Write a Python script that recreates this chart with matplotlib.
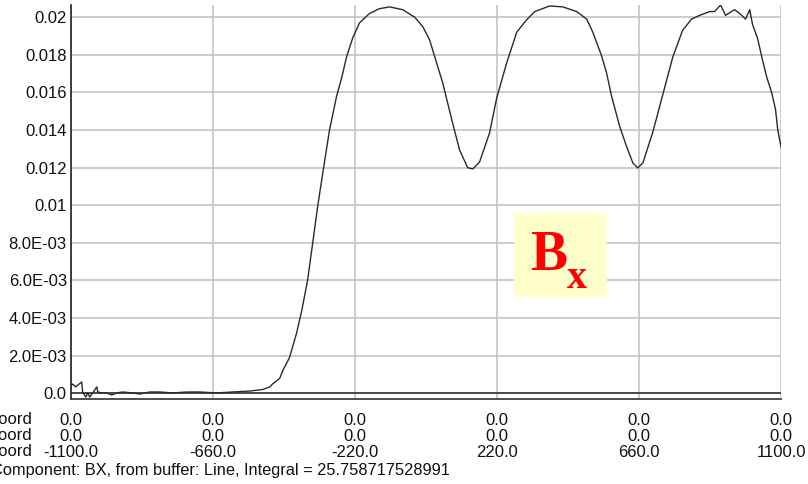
import numpy as np
import matplotlib
matplotlib.use("Agg")
import matplotlib.pyplot as plt

plt.rcParams["font.family"] = ["Liberation Sans", "DejaVu Sans"]

# z coordinate along the line and the BX component
z = [-1098, -1095, -1085, -1079, -1067, -1064, -1054, -1048, -1042, -1033,
     -1020, -1017, -1005, -989, -974, -958, -940, -909, -887, -856,
     -825, -785, -741, -701, -649, -599, -546, -506, -484, -475,
     -453, -444, -423, -401, -385, -367, -351, -336, -320, -299,
     -277, -261, -246, -227, -206, -175, -145, -113, -72, -35, -20,
     -10, 11, 27, 52, 80, 104, 129, 145, 166, 197,
     219, 250, 281, 312, 337, 383, 424, 467, 498, 517,
     545, 560, 575, 600, 622, 641, 656, 672, 703, 734,
     765, 795, 823, 848, 879, 894, 913, 928, 956, 972,
     990, 1003, 1012, 1027, 1043, 1056, 1071, 1083, 1090, 1100]
bx = [0.00044, 0.00049, 0.00034, 0.00044, 0.00060, 0.00007, -0.00020, 0.00002, -0.00020, 0.00002,
      0.00034, 0.00007, 0.00002, 0.00002, -0.00009, 0.00002, 0.00007, 0.00002, -0.00004, 0.00007,
      0.00007, 0.00002, 0.00007, 0.00007, 0.00002, 0.00007, 0.00012, 0.00020, 0.00034, 0.00050,
      0.00080, 0.00120, 0.00190, 0.00320, 0.00440, 0.00600, 0.00800, 0.00990, 0.01170, 0.01400,
      0.01580, 0.01680, 0.01790, 0.01890, 0.01970, 0.02020, 0.02045, 0.02055, 0.02040, 0.02000, 0.01970,
      0.01950, 0.01880, 0.01790, 0.01650, 0.01454, 0.01294, 0.01200, 0.01193, 0.01230, 0.01385,
      0.01570, 0.01757, 0.01920, 0.01987, 0.02030, 0.02060, 0.02055, 0.02030, 0.01990, 0.01920,
      0.01790, 0.01700, 0.01580, 0.01420, 0.01310, 0.01225, 0.01199, 0.01225, 0.01390, 0.01590,
      0.01790, 0.01930, 0.01990, 0.02010, 0.02030, 0.02030, 0.02065, 0.02010, 0.02040, 0.02020,
      0.01990, 0.02040, 0.01960, 0.01890, 0.01770, 0.01680, 0.01600, 0.01510, 0.01400, 0.01310]

yticks = [0.0, 0.002, 0.004, 0.006, 0.008, 0.01, 0.012, 0.014, 0.016, 0.018, 0.02]
ylabels = ["0.0", "2.0E-03", "4.0E-03", "6.0E-03", "8.0E-03", "0.01",
           "0.012", "0.014", "0.016", "0.018", "0.02"]
xticks = [-1100, -660, -220, 220, 660, 1100]
xcoord = ["0.0"] * 6
ycoord = ["0.0"] * 6
zcoord = ["-1100.0", "-660.0", "-220.0", "220.0", "660.0", "1100.0"]
row_names = ["X coord", "Y coord", "Z coord"]
caption = "Component: BX, from buffer: Line, Integral = 25.758717528991"

W, H = 808, 484
fig = plt.figure(figsize=(W / 100, H / 100), dpi=100)
ax = fig.add_axes([71 / W, 1 - 399 / H, 710 / W, 394 / H])

ax.plot(z, bx, color="#2a2a2a", lw=1.0, zorder=3)
ax.axhline(0, color="#404040", lw=1.3, zorder=2)

ax.set_xlim(-1100, 1100)
ax.set_ylim(-0.000303, 0.02065)
ax.set_yticks(yticks)
ax.set_yticklabels(ylabels)
ax.set_xticks(xticks)
ax.set_xticklabels([f"{a}\n{b}\n{c}" for a, b, c in zip(xcoord, ycoord, zcoord)],
                   linespacing=1.08)
ax.tick_params(axis="both", length=0, labelsize=12, colors="#111111")
ax.tick_params(axis="y", pad=3)
ax.tick_params(axis="x", pad=10)
ax.grid(True, color="#c4c4c4", lw=1.2)
ax.set_axisbelow(True)

for side in ("top", "right"):
    ax.spines[side].set_visible(False)
ax.spines["left"].set_color("#222222")
ax.spines["bottom"].set_color("#404040")
ax.spines["left"].set_linewidth(1.2)
ax.spines["bottom"].set_linewidth(1.3)

fig.text(32 / W, 1 - 412 / H, "\n".join(row_names), ha="right", va="top",
         fontsize=12, linespacing=1.08, color="#111111")
fig.text(-9 / W, 1 - 470 / H, caption, ha="left", va="center",
         fontsize=11.8, color="#111111")

# the Bx label box
box = plt.Rectangle((514 / W, 1 - 297 / H), 93 / W, 84 / H,
                    transform=fig.transFigure, facecolor="#ffffcc",
                    edgecolor="none", zorder=5)
fig.add_artist(box)
fig.text(549 / W, 1 - 256 / H, "B", ha="center", va="center", fontsize=40,
         fontweight="bold", family="Liberation Serif", color="#ff0000", zorder=6)
fig.text(577 / W, 1 - 278 / H, "x", ha="center", va="center", fontsize=29,
         fontweight="bold", family="Liberation Serif", color="#ff0000", zorder=6)

fig.savefig("out.png", dpi=100)
